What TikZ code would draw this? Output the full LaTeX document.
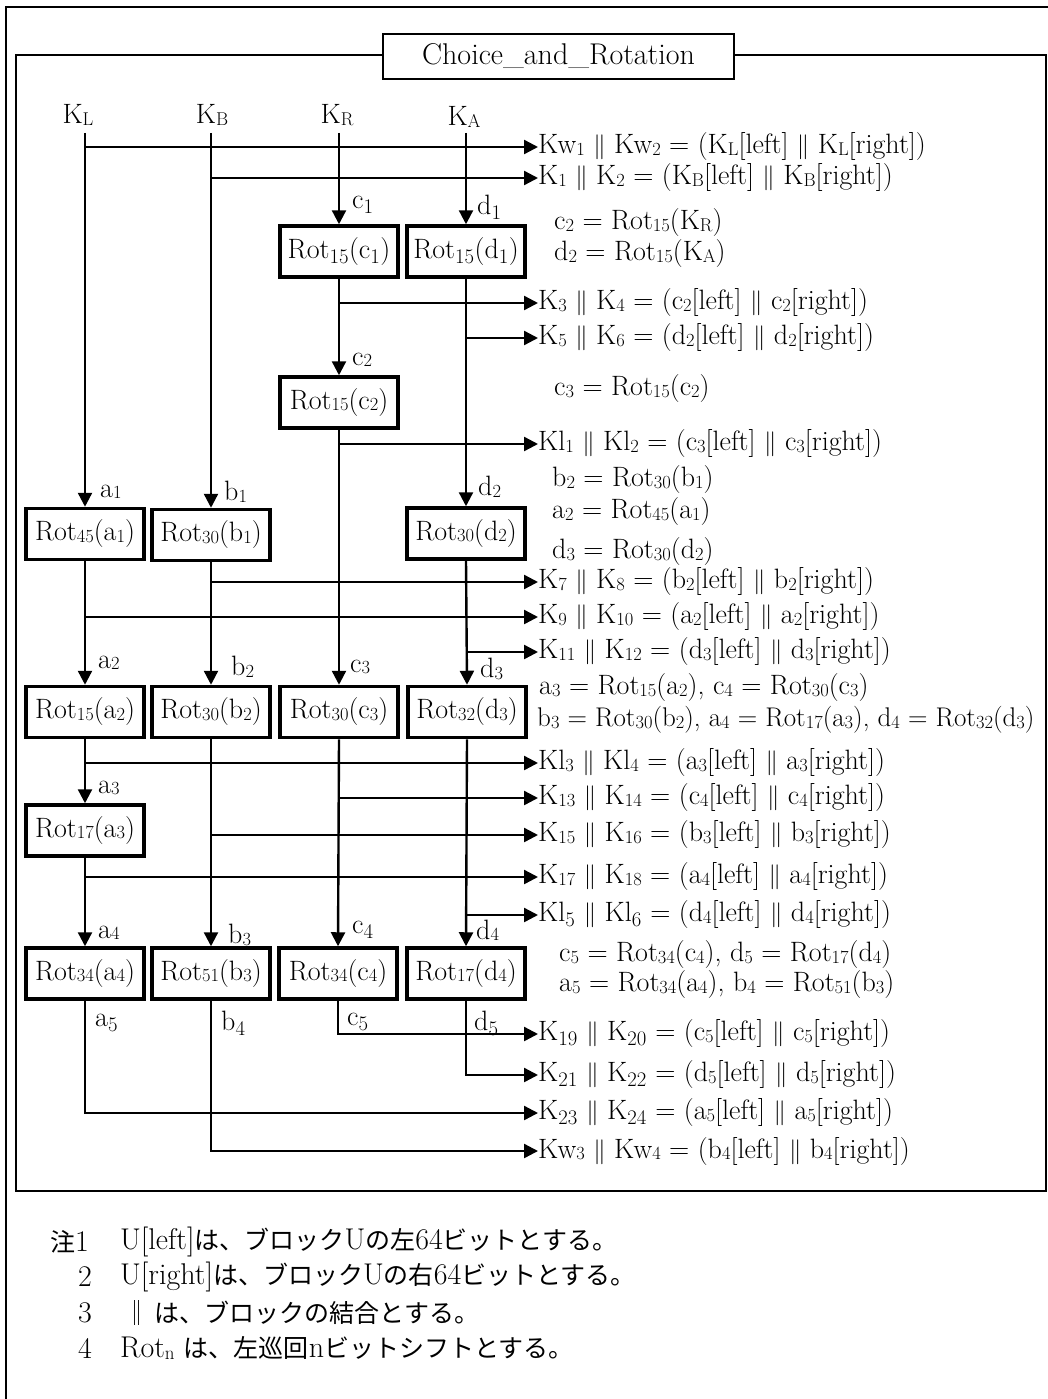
\documentclass[tikz,border=0pt]{standalone}
\usepackage{fontspec}
\newfontfamily\cjk{Noto Sans CJK JP}
\usetikzlibrary{arrows.meta}
\newcommand\bsub[1]{\raisebox{-0.12ex}{\fontsize{18.5}{18.5}\selectfont #1}}
\newcommand\nsub[1]{\raisebox{-0.12ex}{\fontsize{19}{19}\selectfont #1}}
\newcommand\dbar{ $\|$ }
\tikzset{
  txt/.style={inner sep=0pt, font=\fontsize{28}{32}\selectfont},
  eq/.style={txt, anchor=west},
  lbl/.style={txt, anchor=west},
  rotbox/.style={draw, line width=3.5pt, minimum width=118pt, minimum height=51pt, inner sep=0pt, fill=white, font=\fontsize{28}{32}\selectfont},
  arr/.style={line width=2.4pt, -{Triangle[length=14pt,width=14pt]}},
  note/.style={inner sep=0pt, anchor=west, font=\fontsize{30}{34}\selectfont},
}
\newcommand\jp[1]{{\fontsize{25}{30}\selectfont\cjk #1}}
\begin{document}
\begin{tikzpicture}[x=1pt,y=-1pt]
\useasboundingbox (0,0) rectangle (1048,1399);
% frames
\draw[line width=2pt] (1048,7) -- (6,7) -- (6,1399);
\draw[line width=2pt] (16,55) rectangle (1046,1191);
\node[draw, line width=2pt, fill=white, minimum width=351pt, minimum height=45pt, inner sep=0pt, font=\fontsize{30}{34}\selectfont] (title) at (558.5,56.5) {Choice\_and\_Rotation};

% inputs
\node[txt] (KL) at (78,115) {K\bsub{L}};
\node[txt] (KB) at (212,115) {K\bsub{B}};
\node[txt] (KR) at (337,115) {K\bsub{R}};
\node[txt] (KA) at (464,117) {K\bsub{A}};
\coordinate (ta) at (85,133);
\coordinate (tb) at (211,133);
\coordinate (tc) at (339,133);
\coordinate (td) at (466,133);

% boxes
\node[rotbox] (rc1) at (339,251.5) {Rot$_{15}$(c$_1$)};
\node[rotbox] (rd1) at (466,251.5) {Rot$_{15}$(d$_1$)};
\node[rotbox] (rc2) at (339,402.5) {Rot\bsub{15}(c\bsub{2})};
\node[rotbox] (ra1) at (85,534) {Rot\bsub{45}(a\bsub{1})};
\node[rotbox] (rb1) at (211,535) {Rot\bsub{30}(b\bsub{1})};
\node[rotbox] (rd2) at (466,533.5) {Rot\bsub{30}(d\bsub{2})};
\node[rotbox] (ra2) at (85,712) {Rot\bsub{15}(a\bsub{2})};
\node[rotbox] (rb2) at (211,712) {Rot\bsub{30}(b\bsub{2})};
\node[rotbox] (rc3) at (339,712) {Rot\bsub{30}(c\bsub{3})};
\node[rotbox] (rd3) at (467,712) {Rot\bsub{32}(d\bsub{3})};
\node[rotbox] (ra3) at (85,830.5) {Rot\bsub{17}(a\bsub{3})};
\node[rotbox] (ra4) at (85,973.5) {Rot\bsub{34}(a\bsub{4})};
\node[rotbox] (rb3) at (211,973.5) {Rot\bsub{51}(b\bsub{3})};
\node[rotbox] (rc4) at (338,973.5) {Rot\bsub{34}(c\bsub{4})};
\node[rotbox] (rd4) at (466,973.5) {Rot\bsub{17}(d\bsub{4})};

% labels
\node[lbl] (lc1) at (352,205) {c$_1$};
\node[lbl] (ld1) at (477,207) {d$_1$};
\node[lbl] (lc2) at (352,360) {c\bsub{2}};
\node[lbl] (la1) at (100,492) {a\bsub{1}};
\node[lbl] (lb1) at (224,492) {b\bsub{1}};
\node[lbl] (ld2) at (478,487) {d\bsub{2}};
\node[lbl] (la2) at (98,663) {a\bsub{2}};
\node[lbl] (lb2) at (231,667) {b\bsub{2}};
\node[lbl] (lc3) at (350,667) {c\bsub{3}};
\node[lbl] (ld3) at (480,669) {d\bsub{3}};
\node[lbl] (la3) at (98,788) {a\bsub{3}};
\node[lbl] (la4) at (98,933) {a\bsub{4}};
\node[lbl] (lb3) at (228,935) {b\bsub{3}};
\node[lbl] (lc4) at (352,930) {c$_4$};
\node[lbl] (ld4) at (476,930) {d\bsub{4}};
\node[lbl] (la5) at (95,1023) {a$_5$};
\node[lbl] (lb4) at (221,1023) {b$_4$};
\node[lbl] (lc5) at (347,1022) {c$_5$};
\node[lbl] (ld5) at (474,1023) {d$_5$};

% output equations
\node[eq] (o1) at (538,147) {Kw\bsub{1}\dbar Kw\bsub{2} = (K\bsub{L}[left]\dbar K\bsub{L}[right])};
\node[eq] (o2) at (538,178) {K\bsub{1}\dbar K\bsub{2} = (K\bsub{B}[left]\dbar K\bsub{B}[right])};
\node[eq] (o3) at (538,303) {K\bsub{3}\dbar K\bsub{4} = (c\bsub{2}[left]\dbar c\bsub{2}[right])};
\node[eq] (o4) at (538,338) {K\bsub{5}\dbar K\bsub{6} = (d\bsub{2}[left]\dbar d\bsub{2}[right])};
\node[eq] (o5) at (538,444) {Kl\bsub{1}\dbar Kl\bsub{2} = (c\bsub{3}[left]\dbar c\bsub{3}[right])};
\node[eq] (o6) at (538,582) {K\bsub{7}\dbar K\bsub{8} = (b\bsub{2}[left]\dbar b\bsub{2}[right])};
\node[eq] (o7) at (538,617) {K\bsub{9}\dbar K\bsub{10} = (a\bsub{2}[left]\dbar a\bsub{2}[right])};
\node[eq] (o8) at (538,652) {K\bsub{11}\dbar K\bsub{12} = (d\bsub{3}[left]\dbar d\bsub{3}[right])};
\node[eq] (o9) at (538,763) {Kl\bsub{3}\dbar Kl\bsub{4} = (a\bsub{3}[left]\dbar a\bsub{3}[right])};
\node[eq] (o10) at (538,798) {K\bsub{13}\dbar K\bsub{14} = (c\bsub{4}[left]\dbar c\bsub{4}[right])};
\node[eq] (o11) at (538,835) {K\bsub{15}\dbar K\bsub{16} = (b\bsub{3}[left]\dbar b\bsub{3}[right])};
\node[eq] (o12) at (538,877) {K\bsub{17}\dbar K\bsub{18} = (a\bsub{4}[left]\dbar a\bsub{4}[right])};
\node[eq] (o13) at (538,915) {Kl$_5$\dbar Kl$_6$ = (d\bsub{4}[left]\dbar d\bsub{4}[right])};
\node[eq] (o14) at (538,1034) {K$_{19}$\dbar K$_{20}$ = (c\bsub{5}[left]\dbar c\bsub{5}[right])};
\node[eq] (o15) at (538,1075) {K$_{21}$\dbar K$_{22}$ = (d\bsub{5}[left]\dbar d\bsub{5}[right])};
\node[eq] (o16) at (538,1113) {K$_{23}$\dbar K$_{24}$ = (a\bsub{5}[left]\dbar a\bsub{5}[right])};
\node[eq] (o17) at (538,1151) {Kw\bsub{3}\dbar Kw\bsub{4} = (b\bsub{4}[left]\dbar b\bsub{4}[right])};

% side equations
\node[eq] (s1) at (554,223) {c\bsub{2} = Rot\bsub{15}(K\bsub{R})};
\node[eq] (s2) at (554,254) {d\bsub{2} = Rot\bsub{15}(K\bsub{A})};
\node[eq] (s3) at (554,389) {c\bsub{3} = Rot\bsub{15}(c\bsub{2})};
\node[eq] (s4) at (552,480) {b\bsub{2} = Rot\bsub{30}(b\bsub{1})};
\node[eq] (s5) at (552,512) {a\bsub{2} = Rot\bsub{45}(a\bsub{1})};
\node[eq] (s6) at (552,552) {d\bsub{3} = Rot\bsub{30}(d\bsub{2})};
\node[eq] (s7) at (539,688) {a\bsub{3} = Rot\bsub{15}(a\bsub{2}), c\bsub{4} = Rot\bsub{30}(c\bsub{3})};
\node[eq, font=\fontsize{27}{31}\selectfont] (s8) at (537,720) {b\bsub{3} = Rot\bsub{30}(b\bsub{2}), a\bsub{4} = Rot\bsub{17}(a\bsub{3}), d\bsub{4} = Rot\bsub{32}(d\bsub{3})};
\node[eq] (s9) at (559,955) {c\bsub{5} = Rot\bsub{34}(c\bsub{4}), d\bsub{5} = Rot\bsub{17}(d\bsub{4})};
\node[eq] (s10) at (559,985) {a\bsub{5} = Rot\bsub{34}(a\bsub{4}), b\bsub{4} = Rot\bsub{51}(b\bsub{3})};

% column a
\draw[arr] (ta) -- (ra1.north);
\draw[arr] (ra1.south) -- (ra2.north);
\draw[arr] (ra2.south) -- (ra3.north);
\draw[arr] (ra3.south) -- (ra4.north);
\draw[arr] (ra4.south) -- (ra4.south |- o16.west) -- (o16.west);
% column b
\draw[arr] (tb) -- (rb1.north);
\draw[arr] (rb1.south) -- (rb2.north);
\draw[arr] (rb2.south) -- (rb3.north);
\draw[arr] (rb3.south) -- (rb3.south |- o17.west) -- (o17.west);
% column c
\draw[arr] (tc) -- (rc1.north);
\draw[arr] (rc1.south) -- (rc2.north);
\draw[arr] (rc2.south) -- (rc3.north);
\draw[arr] (rc3.south) -- (rc4.north);
\draw[arr] (rc4.south) -- (rc4.south |- o14.west) -- (o14.west);
% column d
\draw[arr] (td) -- (rd1.north);
\draw[arr] (rd1.south) -- (rd2.north);
\draw[arr] (rd2.south) -- (rd3.north);
\draw[arr] (rd3.south) -- (rd4.north);
\draw[arr] (rd4.south) -- (rd4.south |- o15.west) -- (o15.west);

% branches
\draw[arr] (ta |- o1.west) -- (o1.west);
\draw[arr] (tb |- o2.west) -- (o2.west);
\draw[arr] (rc1.south |- o3.west) -- (o3.west);
\draw[arr] (rd1.south |- o4.west) -- (o4.west);
\draw[arr] (rc2.south |- o5.west) -- (o5.west);
\draw[arr] (rb1.south |- o6.west) -- (o6.west);
\draw[arr] (ra1.south |- o7.west) -- (o7.west);
\draw[arr] (rd2.south |- o8.west) -- (o8.west);
\draw[arr] (ra2.south |- o9.west) -- (o9.west);
\draw[arr] (rc3.south |- o10.west) -- (o10.west);
\draw[arr] (rb2.south |- o11.west) -- (o11.west);
\draw[arr] (ra3.south |- o12.west) -- (o12.west);
\draw[arr] (rd3.south |- o13.west) -- (o13.west);

% notes
\node[note] (n1h) at (50,1242) {\jp{注}1};
\node[note] (n1) at (120,1242) {U[left]\jp{は、ブロック}U\jp{の左}64\jp{ビットとする。}};
\node[note] (n2h) at (78,1277) {2};
\node[note] (n2) at (120,1277) {U[right]\jp{は、ブロック}U\jp{の右}64\jp{ビットとする。}};
\node[note] (n3h) at (78,1313) {3};
\node[note] (n3) at (124,1313) {\jp{‖ は、ブロックの結合とする。}};
\node[note] (n4h) at (78,1348) {4};
\node[note] (n4) at (120,1348) {Rot\nsub{n} \jp{は、左巡回}n\jp{ビットシフトとする。}};
\end{tikzpicture}
\end{document}
